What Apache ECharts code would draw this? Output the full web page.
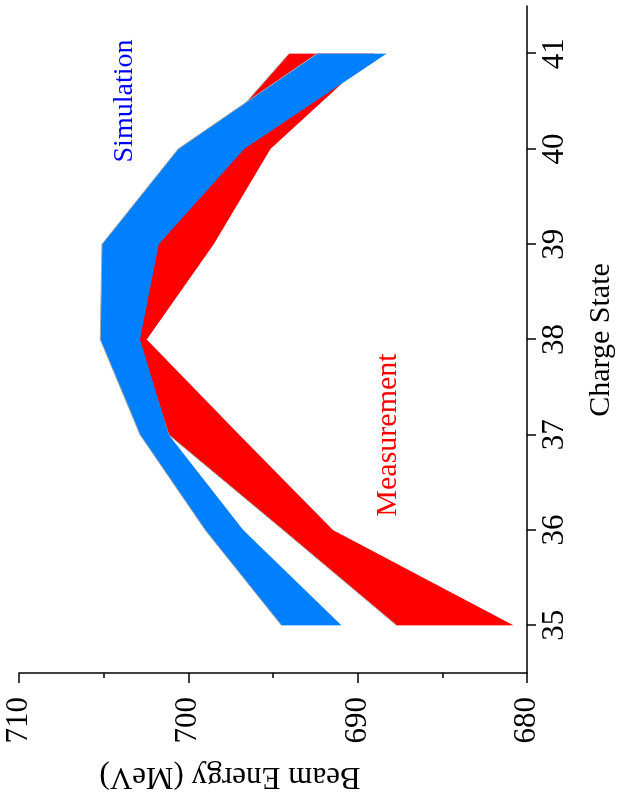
<!DOCTYPE html>
<html>
<head>
<meta charset="utf-8">
<title>Beam Energy vs Charge State</title>
<script src="https://cdn.jsdelivr.net/npm/echarts@6/dist/echarts.min.js"></script>
<style>
  html, body { margin: 0; padding: 0; background: #ffffff; }
  #page { position: relative; width: 618px; height: 806px; overflow: hidden; background: #ffffff; }
  /* the chart is laid out landscape and turned a quarter turn counter-clockwise */
  #chart {
    position: absolute; left: 0; top: 0;
    width: 806px; height: 618px;
    transform-origin: 0 0;
    transform: translate(0, 806px) rotate(-90deg);
  }
</style>
</head>
<body>
<div id="page"><div id="chart"></div></div>
<script>
// Charge states on the horizontal axis
const chargeStates = ['35', '36', '37', '38', '39', '40', '41'];

// Simulated beam energy band (MeV): upper and lower edges
const simulationHigh = [694.5, 699.0, 702.85, 705.2, 705.1, 700.6, 692.4];
const simulationLow  = [690.95, 696.75, 701.15, 702.85, 701.75, 696.7, 688.3];

// Measured beam energy band (MeV): upper and lower edges
const measurementHigh = [687.7, 694.4, 701.15, 703.0, 702.0, 699.0, 694.05];
const measurementLow  = [680.8, 691.45, 697.0, 702.45, 698.5, 695.15, 689.0];

// Energy axis ticks
const energyMin = 680;
const energyMax = 710;
const energyStep = 10;

const serifFont = '"Liberation Serif", "Times New Roman", serif';

function bandWidth(high, low) {
  return high.map((h, i) => +(h - low[i]).toFixed(3));
}

const chart = echarts.init(document.getElementById('chart'), null, { renderer: 'canvas' });

chart.setOption({
  animation: false,
  backgroundColor: '#ffffff',
  grid: { left: 133, right: 6, top: 19, bottom: 91, containLabel: false },
  xAxis: {
    type: 'category',
    data: chargeStates,
    boundaryGap: true,
    axisLine: { show: true, lineStyle: { color: '#000', width: 1.5 } },
    axisTick: { show: true, alignWithLabel: true, inside: false, length: 9, lineStyle: { color: '#000', width: 1.5 } },
    axisLabel: { margin: 12, color: '#000', fontFamily: serifFont, fontSize: 31 },
    splitLine: { show: false }
  },
  yAxis: {
    type: 'value',
    min: energyMin,
    max: energyMax,
    interval: energyStep,
    axisLine: { show: true, lineStyle: { color: '#000', width: 1.5 } },
    axisTick: { show: true, inside: false, length: 10, lineStyle: { color: '#000', width: 1.5 } },
    minorTick: { show: true, splitNumber: 2, length: 5, lineStyle: { color: '#000', width: 1.5 } },
    axisLabel: { margin: 24, color: '#000', fontFamily: serifFont, fontSize: 31 },
    splitLine: { show: false }
  },
  series: [
    {
      name: 'Measurement low',
      type: 'line',
      stack: 'measurement',
      data: measurementLow,
      symbol: 'none',
      silent: true,
      lineStyle: { opacity: 0 },
      z: 2
    },
    {
      name: 'Measurement',
      type: 'line',
      stack: 'measurement',
      data: bandWidth(measurementHigh, measurementLow),
      symbol: 'none',
      silent: true,
      lineStyle: { color: '#a8a8a8', width: 1 },
      areaStyle: { color: '#ff0000', opacity: 1 },
      z: 2
    },
    {
      name: 'Simulation low',
      type: 'line',
      stack: 'simulation',
      data: simulationLow,
      symbol: 'none',
      silent: true,
      lineStyle: { opacity: 0 },
      z: 3
    },
    {
      name: 'Simulation',
      type: 'line',
      stack: 'simulation',
      data: bandWidth(simulationHigh, simulationLow),
      symbol: 'none',
      silent: true,
      lineStyle: { color: '#a8a8a8', width: 1 },
      areaStyle: { color: '#0080ff', opacity: 1 },
      z: 3
    }
  ],
  graphic: [
    {
      type: 'text', x: 30, y: 230, rotation: Math.PI / 2,
      style: { text: 'Beam Energy (MeV)', fill: '#000', font: '31px ' + serifFont, textAlign: 'center', textVerticalAlign: 'middle' }
    },
    {
      type: 'text', x: 466, y: 601,
      style: { text: 'Charge State', fill: '#000', font: '30px ' + serifFont, textAlign: 'center', textVerticalAlign: 'middle' }
    },
    {
      type: 'text', x: 705, y: 125,
      style: { text: 'Simulation', fill: '#0000ff', font: '28px ' + serifFont, textAlign: 'center', textVerticalAlign: 'middle' }
    },
    {
      type: 'text', x: 371, y: 388,
      style: { text: 'Measurement', fill: '#ff0000', font: '30px ' + serifFont, textAlign: 'center', textVerticalAlign: 'middle' }
    }
  ]
});
</script>
</body>
</html>
